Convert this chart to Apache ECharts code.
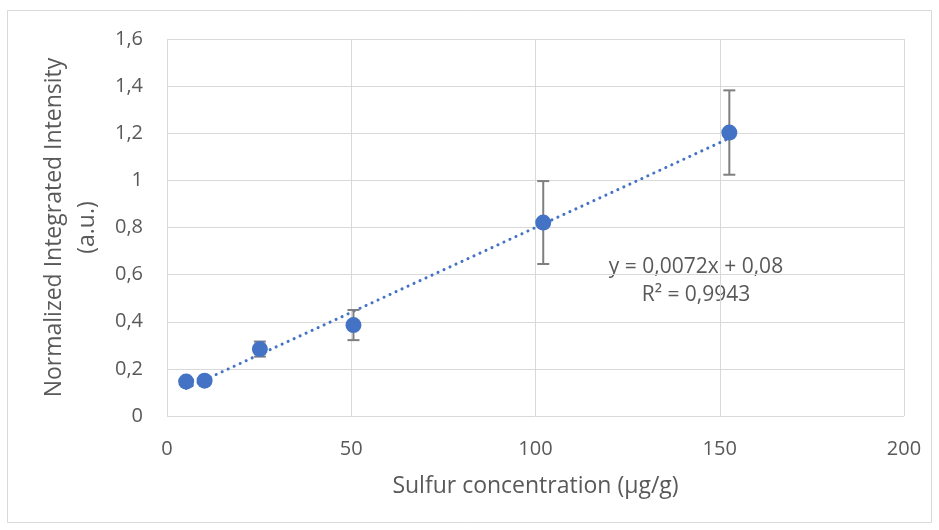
<!DOCTYPE html>
<html>
<head>
<meta charset="utf-8">
<script src="https://cdn.jsdelivr.net/npm/echarts@6/dist/echarts.min.js"></script>
<style>
  html, body { margin: 0; padding: 0; background: #fff; }
  #chart { width: 939px; height: 530px; }
</style>
</head>
<body>
<div id="chart"></div>
<script>
// measured points (µg/g vs normalized intensity)
const concentration = [5.2, 10.2, 25.2, 50.6, 102.1, 152.6];
const intensity = [0.146, 0.150, 0.284, 0.386, 0.821, 1.203];
const errorBar = [0.012, 0.012, 0.032, 0.064, 0.176, 0.179];

// linear trendline from the fitted equation
const slope = 0.0072;
const intercept = 0.08;
const trendX = [5.2, 152.6];

const yTicks = ['0', '0,2', '0,4', '0,6', '0,8', '1', '1,2', '1,4', '1,6'];

const FONT = 'Open Sans';
const GREY = '#595959';
const BLUE = '#4472C4';

const chart = echarts.init(document.getElementById('chart'));

const points = concentration.map((x, i) => [x, intensity[i]]);
const errors = concentration.map((x, i) => [x, intensity[i] - errorBar[i], intensity[i] + errorBar[i]]);
const trend = trendX.map(x => [x, slope * x + intercept]);

const option = {
    animation: false,
    backgroundColor: '#fff',
    grid: { left: 167, right: 35, top: 39, bottom: 114 },
    xAxis: {
        type: 'value',
        min: 0, max: 200, interval: 50,
        axisLine: { show: false },
        axisTick: { show: false },
        axisLabel: { color: GREY, fontFamily: FONT, fontSize: 20, margin: 23 },
        splitLine: { lineStyle: { color: '#d9d9d9', width: 1 } },
        name: 'Sulfur concentration (µg/g)',
        nameLocation: 'middle',
        nameGap: 59,
        nameTextStyle: { color: GREY, fontFamily: FONT, fontSize: 23 }
    },
    yAxis: {
        type: 'value',
        min: 0, max: 1.6, interval: 0.2,
        axisLine: { show: false },
        axisTick: { show: false },
        axisLabel: {
            color: GREY, fontFamily: FONT, fontSize: 20, margin: 24,
            formatter: v => yTicks[Math.round(v / 0.2)]
        },
        splitLine: { lineStyle: { color: '#d9d9d9', width: 1 } },
        name: 'Normalized Integrated Intensity\n(a.u.)',
        nameLocation: 'middle',
        nameGap: 58,
        nameTextStyle: { color: GREY, fontFamily: FONT, fontSize: 23, lineHeight: 33, align: 'center' }
    },
    series: [
        {
            type: 'line',
            data: trend,
            symbol: 'none',
            lineStyle: { color: BLUE, width: 3, type: [0.1, 6.5], cap: 'round' },
            z: 2
        },
        {
            type: 'custom',
            data: errors,
            renderItem: (params, api) => {
                const lo = api.coord([api.value(0), api.value(1)]);
                const hi = api.coord([api.value(0), api.value(2)]);
                const w = 6;
                const style = { stroke: '#7f7f7f', lineWidth: 2 };
                return {
                    type: 'group',
                    children: [
                        { type: 'line', shape: { x1: lo[0], y1: lo[1], x2: hi[0], y2: hi[1] }, style },
                        { type: 'line', shape: { x1: lo[0] - w, y1: lo[1], x2: lo[0] + w, y2: lo[1] }, style },
                        { type: 'line', shape: { x1: hi[0] - w, y1: hi[1], x2: hi[0] + w, y2: hi[1] }, style }
                    ]
                };
            },
            encode: { x: 0, y: [1, 2] },
            z: 3
        },
        {
            type: 'scatter',
            data: points,
            symbol: 'circle',
            symbolSize: 16,
            itemStyle: { color: BLUE, opacity: 1 },
            z: 4
        }
    ],
    graphic: [
        {
            type: 'text',
            x: 696, y: 267,
            style: {
                text: 'y = 0,0072x + 0,08', fill: GREY, font: '21px "Open Sans"',
                textAlign: 'center', textVerticalAlign: 'middle'
            }
        },
        {
            type: 'text',
            x: 696, y: 295,
            style: {
                text: 'R² = 0,9943', fill: GREY, font: '21px "Open Sans"',
                textAlign: 'center', textVerticalAlign: 'middle'
            }
        },
        {
            type: 'rect',
            shape: { x: 7.5, y: 10.5, width: 924, height: 512 },
            style: { fill: 'none', stroke: '#d9d9d9', lineWidth: 1 },
            silent: true
        }
    ]
};

chart.setOption(option);
</script>
</body>
</html>
